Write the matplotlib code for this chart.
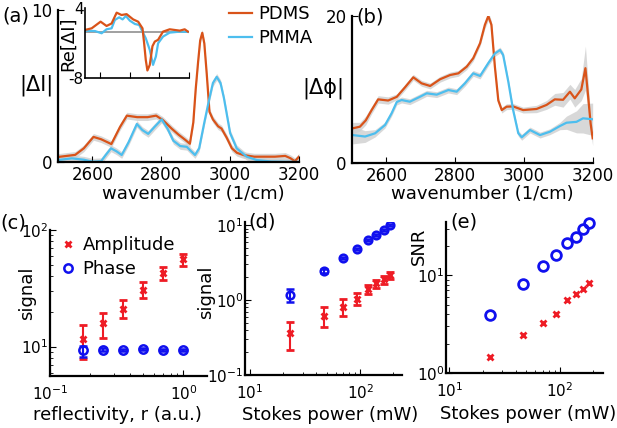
import numpy as np
import matplotlib
matplotlib.use("Agg")
import matplotlib.pyplot as plt

# ---- (a) |dI| spectra
wn_pdms_a = [2500, 2550, 2575, 2603, 2625, 2655, 2680, 2700, 2730, 2760, 2785, 2805, 2830, 2850,
             2870, 2883, 2893, 2900, 2907, 2913, 2919, 2925, 2932, 2940, 2950, 2965, 2975, 2990,
             3005, 3020, 3040, 3070, 3100, 3130, 3160, 3175, 3188, 3200]
di_pdms = [0.33, 0.47, 0.9, 1.65, 1.5, 1.18, 2.3, 3.05, 2.95, 2.95, 3.05, 2.75, 2.2, 1.8,
           1.45, 1.2, 2.6, 4.8, 6.6, 8.0, 8.5, 7.8, 5.8, 3.3, 2.8, 2.35, 2.2, 1.6,
           0.9, 0.6, 0.45, 0.35, 0.35, 0.35, 0.4, 0.25, 0.05, 0.35]
wn_pmma_a = [2500, 2540, 2575, 2600, 2625, 2640, 2654, 2670, 2685, 2705, 2729, 2745, 2762, 2780,
             2801, 2818, 2835, 2855, 2874, 2887, 2898, 2910, 2925, 2937, 2950, 2961, 2972, 2982,
             3000, 3019, 3048, 3077, 3120, 3200]
di_pmma = [0.13, 0.24, 0.15, 0.02, 0.05, 0.5, 0.9, 0.7, 0.46, 1.3, 2.5, 2.1, 1.85, 2.3,
           2.8, 2.2, 1.4, 1.05, 1.0, 0.7, 0.46, 0.9, 2.6, 3.9, 5.2, 5.6, 5.2, 4.2,
           1.9, 0.9, 0.35, 0.13, 0.03, 0.0]
band_a = 0.22

# inset Re[dI]
wn_pdms_in = [2500, 2545, 2605, 2645, 2679, 2713, 2746, 2780, 2824, 2858, 2887, 2898, 2909, 2920,
              2936, 2954, 2970, 2992, 3025, 3070, 3138, 3171, 3193]
re_pdms = [0.29, 0.57, 1.71, 0.97, 1.4, 3.25, 2.85, 3.0, 2.1, 1.7, 0.57, -1.98, -4.84, -6.66,
           -5.7, -2.5, -1.7, -1.4, 0.0, 0.4, 0.17, 0.4, 0.0]
wn_pmma_in = [2500, 2567, 2612, 2645, 2679, 2701, 2730, 2753, 2775, 2802, 2836, 2865, 2887, 2909,
              2936, 2958, 2977, 2992, 3025, 3070, 3138, 3193]
re_pmma = [0.17, 0.1, -0.28, 0.4, 0.57, 2.0, 2.45, 2.1, 2.68, 1.88, 1.31, 1.14, 0.0, -1.14,
           -3.13, -5.7, -4.27, -2.0, -0.85, -0.17, 0.0, -0.05]

# ---- (b) |dphi| spectra
wn_pdms_b = [2502, 2523, 2540, 2557, 2576, 2605, 2630, 2654, 2678, 2702, 2727, 2756, 2785, 2809,
             2833, 2852, 2872, 2886, 2896, 2905, 2915, 2925, 2935, 2949, 2968, 2997, 3036, 3065,
             3089, 3113, 3133, 3147, 3166, 3178, 3186, 3193, 3199]
dphi_pdms = [4.72, 4.94, 5.8, 7.2, 8.66, 8.5, 9.0, 10.3, 11.66, 10.84, 10.48, 11.4, 11.97, 12.2,
             13.1, 14.25, 16.3, 18.8, 20.0, 18.8, 13.1, 8.5, 7.2, 7.66, 7.7, 7.2, 7.35, 7.9,
             8.66, 8.6, 9.7, 8.8, 10.0, 12.9, 9.0, 5.4, 3.36]
band_pdms_b = [0.8, 0.6, 0.6, 0.5, 0.5, 0.5, 0.4, 0.4, 0.4, 0.4, 0.4, 0.4, 0.4, 0.4,
               0.4, 0.4, 0.4, 0.5, 0.6, 0.5, 0.5, 0.4, 0.4, 0.4, 0.4, 0.4, 0.5, 0.6,
               0.8, 1.0, 1.0, 1.2, 1.5, 3.0, 2.0, 1.0, 1.0]
wn_pmma_b = [2502, 2538, 2567, 2596, 2615, 2630, 2644, 2668, 2697, 2717, 2746, 2780, 2804, 2828,
             2852, 2872, 2896, 2915, 2930, 2939, 2954, 2968, 2983, 2993, 3017, 3046, 3075, 3104,
             3123, 3152, 3171, 3199]
dphi_pmma = [3.8, 3.6, 4.04, 5.17, 6.76, 8.3, 8.57, 8.34, 9.0, 9.48, 9.3, 9.93, 9.7, 10.84,
             12.2, 11.84, 13.6, 14.9, 15.37, 14.7, 11.06, 7.2, 4.04, 3.5, 4.49, 3.8, 4.26, 5.03,
             5.48, 5.6, 6.08, 5.95]
band_pmma_b = [1.2, 0.8, 0.5, 0.4, 0.4, 0.4, 0.4, 0.4, 0.4, 0.4, 0.4, 0.4, 0.4, 0.4,
               0.4, 0.4, 0.4, 0.4, 0.4, 0.4, 0.4, 0.4, 0.4, 0.4, 0.4, 0.4, 0.4, 0.5,
               0.9, 1.5, 2.0, 2.2]

# ---- (c) signal vs reflectivity
refl = [0.177, 0.25, 0.354, 0.5, 0.707, 1.0]
amp_c = [11.6, 15.8, 21, 30.6, 43, 56]
amp_c_hi = [15.3, 19.3, 25, 36, 48.5, 62]
amp_c_lo = [7.9, 11.8, 17.5, 26, 37, 49]
ph_c = [9.3, 9.4, 9.4, 9.5, 9.4, 9.4]
ph_c_hi = [10.2, 9.7, 9.6, 9.7, 9.6, 9.6]
ph_c_lo = [8.2, 9.1, 9.2, 9.3, 9.2, 9.2]

# ---- (d), (e) vs Stokes power
stokes = [23.3, 46.7, 70, 93.3, 116.7, 140, 163.3, 186.7]
ph_d = [1.17, 2.44, 3.66, 4.79, 6.31, 7.36, 8.58, 10.0]
ph_d_err = [0.24, 0.12, 0.15, 0.15, 0.2, 0.2, 0.25, 0.3]
amp_d = [0.366, 0.61, 0.815, 1.02, 1.39, 1.67, 1.89, 2.15]
amp_d_hi = [0.514, 0.815, 1.02, 1.23, 1.58, 1.85, 2.09, 2.39]
amp_d_lo = [0.215, 0.433, 0.61, 0.857, 1.2, 1.43, 1.63, 1.89]
snr_ph = [3.92, 8.1, 12.4, 16, 21.5, 24.5, 29.4, 34]
snr_amp = [1.45, 2.42, 3.22, 4.04, 5.52, 6.41, 7.2, 8.42]

orange = "#D95319"
blue = "#4DBEEE"
red = "#EE1C25"
dblue = "#1010EE"
gray = "#CFCFCF"

plt.rcParams["font.family"] = "DejaVu Sans"
plt.rcParams["font.size"] = 12
plt.rcParams["axes.linewidth"] = 1.6
plt.rcParams["xtick.direction"] = "in"
plt.rcParams["ytick.direction"] = "in"
plt.rcParams["xtick.major.size"] = 4
plt.rcParams["ytick.major.size"] = 4
plt.rcParams["xtick.minor.size"] = 2
plt.rcParams["ytick.minor.size"] = 2
plt.rcParams["xtick.major.pad"] = 3
plt.rcParams["ytick.major.pad"] = 4

fig = plt.figure(figsize=(6.17, 4.28), dpi=100)


def clean(ax):
    ax.spines["top"].set_visible(False)
    ax.spines["right"].set_visible(False)


def logstyle(ax):
    ax.set_xscale("log")
    ax.set_yscale("log")
    ax.tick_params(axis="x", which="both", labelsize=11, pad=6)
    ax.tick_params(axis="y", which="both", labelsize=11, pad=1)


def spectrum(ax, x, y, band, color, label=None):
    x = np.array(x)
    y = np.array(y)
    ax.fill_between(x, y - np.array(band), y + np.array(band), color=gray, lw=0, alpha=0.8)
    ax.plot(x, y, color=color, lw=1.6, label=label)


# (a)
axa = fig.add_axes([58 / 617, 1 - 162 / 428, 241 / 617, 152 / 428])
spectrum(axa, wn_pdms_a, di_pdms, band_a, orange, "PDMS")
spectrum(axa, wn_pmma_a, di_pmma, band_a, blue, "PMMA")
axa.set_xlim(2500, 3200)
axa.set_ylim(0, 10)
axa.set_xticks([2600, 2800, 3000, 3200])
axa.set_yticks([0, 10])
clean(axa)
axa.set_xlabel("wavenumber (1/cm)", fontsize=13)
axa.xaxis.set_label_coords(0.56, -0.15, transform=axa.transAxes)
axa.legend(loc="upper left", bbox_to_anchor=(229 / 617, 1 - 5 / 428), bbox_transform=fig.transFigure,
           frameon=False, fontsize=13, handlelength=1.3, handletextpad=0.3, labelspacing=0.35,
           borderaxespad=0, borderpad=0)
fig.text(36 / 617, 1 - 85 / 428, "|ΔI|", fontsize=15, ha="center", va="center")
fig.text(2 / 617, 1 - 16 / 428, "(a)", fontsize=14, ha="left", va="center")

# inset
axi = fig.add_axes([85 / 617, 1 - 78.3 / 428, 104 / 617, 70 / 428])
axi.axhline(0, color="#909090", lw=1.2)
axi.plot(wn_pmma_in, re_pmma, color=blue, lw=1.6)
axi.plot(wn_pdms_in, re_pdms, color=orange, lw=1.6)
axi.set_xlim(2500, 3200)
axi.set_ylim(-8, 4)
axi.set_xticks([2600, 2800, 3000, 3200])
axi.set_xticklabels([])
axi.set_yticks([-8, 4])
axi.set_yticklabels(["-8", "4"], fontsize=11)
axi.tick_params(axis="y", length=0, pad=1)
axi.patch.set_alpha(0)
for s in ["left", "bottom"]:
    axi.spines[s].set_linewidth(1.2)
clean(axi)
axi.set_ylabel("Re[ΔI]", fontsize=13, labelpad=-6)

# (b)
axb = fig.add_axes([352 / 617, 1 - 163 / 428, 241 / 617, 147 / 428])
spectrum(axb, wn_pdms_b, dphi_pdms, band_pdms_b, orange)
spectrum(axb, wn_pmma_b, dphi_pmma, band_pmma_b, blue)
axb.set_xlim(2500, 3200)
axb.set_ylim(0, 20)
axb.set_xticks([2600, 2800, 3000, 3200])
axb.set_yticks([0, 20])
clean(axb)
axb.set_xlabel("wavenumber (1/cm)", fontsize=13)
axb.xaxis.set_label_coords(0.54, -0.15, transform=axb.transAxes)
fig.text(323 / 617, 1 - 88 / 428, "|Δϕ|", fontsize=15, ha="center", va="center")
fig.text(356 / 617, 1 - 17 / 428, "(b)", fontsize=14, ha="left", va="center")

# (c)
axc = fig.add_axes([50 / 617, 1 - 376 / 428, 157 / 617, 146 / 428])
logstyle(axc)
amp_c_err = [np.array(amp_c) - np.array(amp_c_lo), np.array(amp_c_hi) - np.array(amp_c)]
ph_c_err = [np.array(ph_c) - np.array(ph_c_lo), np.array(ph_c_hi) - np.array(ph_c)]
axc.errorbar(refl, amp_c, yerr=amp_c_err, fmt="x", color=red, ms=5, mew=2, capsize=3,
             elinewidth=1.5, capthick=1.5, label="Amplitude")
axc.errorbar(refl, ph_c, yerr=ph_c_err, fmt="o", color=dblue, mfc="none", ms=6, mew=1.8,
             capsize=3, elinewidth=1.5, capthick=1.5, label="Phase")
axc.set_xlim(0.1, 1.5)
axc.set_ylim(5.6, 100)
clean(axc)
axc.set_xlabel("reflectivity, r (a.u.)", fontsize=13)
axc.xaxis.set_label_coords(0.43, -0.205, transform=axc.transAxes)
axc.set_ylabel("signal", fontsize=13)
axc.yaxis.set_label_coords(-0.09, 0.57, transform=axc.transAxes)
handles, labels = axc.get_legend_handles_labels()
handles = [h[0] for h in handles]
axc.legend(handles, labels, loc="upper left", bbox_to_anchor=(0.0, 1.03), frameon=False,
           fontsize=13, handlelength=0.8, handletextpad=0.4, labelspacing=0.3, borderaxespad=0.2)
fig.text(0 / 617, 1 - 223 / 428, "(c)", fontsize=14, ha="left", va="center")

# (d)
axd = fig.add_axes([245 / 617, 1 - 375 / 428, 157 / 617, 153 / 428])
logstyle(axd)
amp_d_err = [np.array(amp_d) - np.array(amp_d_lo), np.array(amp_d_hi) - np.array(amp_d)]
axd.errorbar(stokes, amp_d, yerr=amp_d_err, fmt="x", color=red, ms=5, mew=2, capsize=3,
             elinewidth=1.5, capthick=1.5)
axd.errorbar(stokes, ph_d, yerr=ph_d_err, fmt="o", color=dblue, mfc="none", ms=5.5, mew=1.8,
             capsize=3, elinewidth=1.5, capthick=1.5)
axd.set_xlim(9, 240)
axd.set_ylim(0.1, 11)
clean(axd)
axd.set_xlabel("Stokes power (mW)", fontsize=13)
axd.xaxis.set_label_coords(0.54, -0.2, transform=axd.transAxes)
axd.set_ylabel("signal", fontsize=13)
axd.yaxis.set_label_coords(-0.19, 0.54, transform=axd.transAxes)
fig.text(248 / 617, 1 - 222 / 428, "(d)", fontsize=14, ha="left", va="center")

# (e)
axe = fig.add_axes([446 / 617, 1 - 373 / 428, 157 / 617, 151 / 428])
logstyle(axe)
axe.plot(stokes, snr_amp, "x", color=red, ms=5, mew=2, clip_on=False)
axe.plot(stokes, snr_ph, "o", color=dblue, mfc="none", ms=7, mew=2, clip_on=False)
axe.set_xlim(9.3, 248)
axe.set_ylim(1, 35)
clean(axe)
axe.set_xlabel("Stokes power (mW)", fontsize=13)
axe.xaxis.set_label_coords(0.52, -0.21, transform=axe.transAxes)
axe.set_ylabel("SNR", fontsize=13)
axe.yaxis.set_label_coords(-0.115, 0.84, transform=axe.transAxes)
fig.text(450 / 617, 1 - 222 / 428, "(e)", fontsize=14, ha="left", va="center")

fig.savefig("out.png", dpi=100)
